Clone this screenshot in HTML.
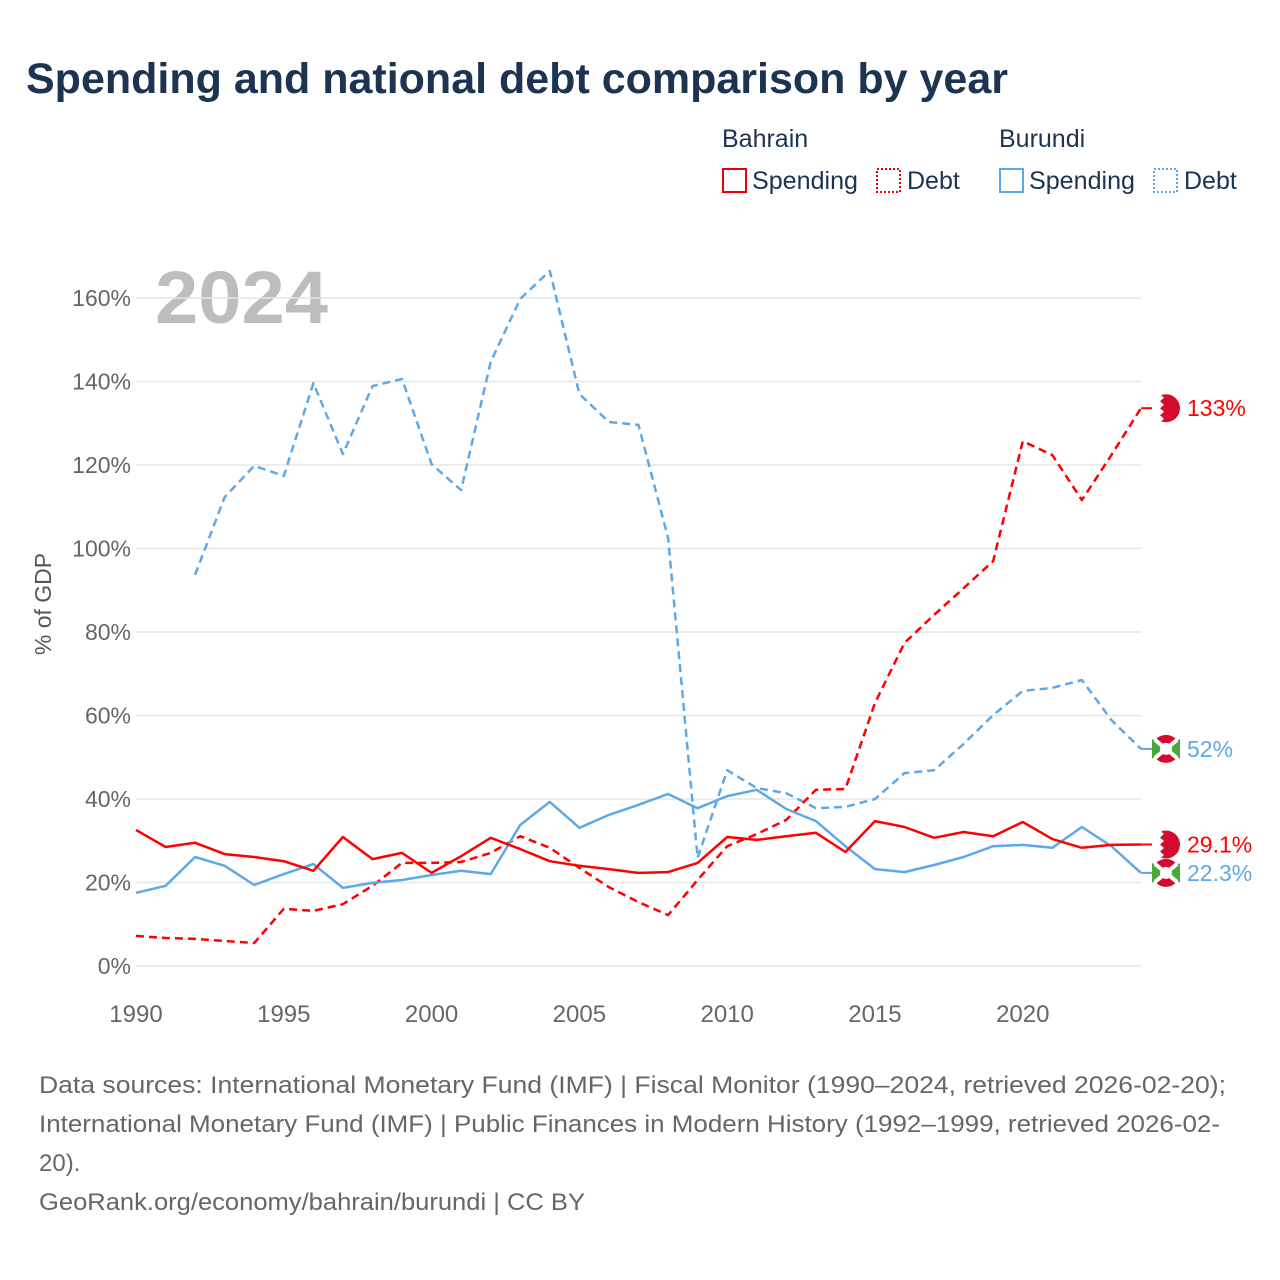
<!DOCTYPE html>
<html><head><meta charset="utf-8"><style>
body{margin:0;background:#fff;font-family:"Liberation Sans",sans-serif;}
#wrap{position:relative;width:1280px;height:1280px;overflow:hidden;}
</style></head><body>
<div id="wrap">
<svg id="chart" width="1280" height="1280">
<text x="26" y="93" font-size="43" font-weight="bold" fill="#1c3352" textLength="982" lengthAdjust="spacingAndGlyphs">Spending and national debt comparison by year</text>
<g font-size="25" fill="#1c3352">
<text x="722" y="147">Bahrain</text>
<text x="999" y="147">Burundi</text>
<g><rect x="723" y="169" width="23" height="23" fill="none" stroke="#e8000b" stroke-width="2"/><text x="752" y="189" textLength="106" lengthAdjust="spacingAndGlyphs">Spending</text></g>
<g><rect x="877" y="169" width="23" height="23" fill="none" stroke="#e8000b" stroke-width="2" stroke-dasharray="2,2"/><text x="907" y="189">Debt</text></g>
<g><rect x="1000" y="169" width="23" height="23" fill="none" stroke="#5fa8e8" stroke-width="2"/><text x="1029" y="189" textLength="106" lengthAdjust="spacingAndGlyphs">Spending</text></g>
<g><rect x="1154" y="169" width="23" height="23" fill="none" stroke="#5fa8e8" stroke-width="2" stroke-dasharray="2,2"/><text x="1184" y="189">Debt</text></g>
</g>
<text x="155" y="323" font-size="74" font-weight="bold" fill="#bdbdbd" textLength="173" lengthAdjust="spacingAndGlyphs">2024</text>
<text transform="translate(51,604) rotate(-90)" text-anchor="middle" font-size="23" fill="#555">% of GDP</text>
<g id="grid"></g><g id="lines"></g><g id="ends"></g>
<g font-size="24" fill="#666">
<text x="39" y="1093" textLength="1187" lengthAdjust="spacingAndGlyphs">Data sources: International Monetary Fund (IMF) | Fiscal Monitor (1990–2024, retrieved 2026-02-20);</text>
<text x="39" y="1132" textLength="1181" lengthAdjust="spacingAndGlyphs">International Monetary Fund (IMF) | Public Finances in Modern History (1992–1999, retrieved 2026-02-</text>
<text x="39" y="1171">20).</text>
<text x="39" y="1210" textLength="546" lengthAdjust="spacingAndGlyphs">GeoRank.org/economy/bahrain/burundi | CC BY</text>
</g>
</svg></div>
<script>
const years=[];for(let y=1990;y<=2024;y++)years.push(y);
const yTicks=[0,20,40,60,80,100,120,140,160];
const xTicks=[1990,1995,2000,2005,2010,2015,2020];
const bhrSpending=[32.6,28.5,29.5,26.8,26.1,25.1,22.8,30.9,25.6,27.1,22.3,26.3,30.7,28.0,25.1,24.0,23.2,22.3,22.5,24.7,30.9,30.2,31.1,31.9,27.3,34.7,33.3,30.7,32.1,31.1,34.5,30.4,28.3,29.0,29.1];
const bhrDebt=[7.2,6.7,6.5,6.0,5.5,13.7,13.2,14.8,19.2,24.7,24.7,24.9,27.1,31.1,28.3,23.5,18.9,15.3,12.2,20.6,28.7,31.6,35.0,42.2,42.4,63.0,77.4,84.1,90.5,97.0,125.7,122.4,111.6,122.4,133.6];
const bdiSpending=[17.5,19.2,26.1,24.0,19.4,22.0,24.4,18.7,19.9,20.6,21.8,22.8,22.0,33.8,39.3,33.1,36.2,38.6,41.2,37.8,40.7,42.2,37.6,34.7,28.7,23.2,22.5,24.2,26.1,28.7,29.0,28.3,33.3,28.7,22.3];
const bdiDebt=[null,null,93.7,112.3,119.8,117.4,139.6,122.6,138.9,140.6,120.2,114.0,144.7,159.8,166.5,137.0,130.3,129.6,102.5,25.9,46.9,42.6,41.4,37.8,38.1,40.0,46.2,46.9,53.2,60.1,65.9,66.6,68.5,58.9,52.0];
const endLabels=["133%","29.1%","52%","22.3%"];
const NS="http://www.w3.org/2000/svg";
const X=y=>136+(y-1990)*(1141-136)/34;
const Y=v=>966-v*(966-298)/160;
function el(t,a,p){const e=document.createElementNS(NS,t);for(const k in a)e.setAttribute(k,a[k]);p.appendChild(e);return e;}
const grid=document.getElementById('grid');
yTicks.forEach(v=>{
 const l=el('line',{x1:136,x2:1141,y1:Y(v),y2:Y(v),stroke:'#e6e6e6','stroke-width':1.5},grid);
 
 
 const t=el('text',{x:131,y:Y(v)+8,'text-anchor':'end','font-size':23,fill:'#666'},grid);t.textContent=v+'%';
 
 
});
xTicks.forEach(v=>{
 const t=el('text',{x:X(v),y:1022,'text-anchor':'middle','font-size':24,fill:'#666'},grid);t.textContent=v;
 
 
});
const lines=document.getElementById('lines');
function series(vals,color,dash,name){
 let d='';let pen=false;
 vals.forEach((v,i)=>{if(v==null){pen=false;return;}d+=(pen?'L':'M')+X(years[i]).toFixed(1)+','+Y(v).toFixed(1);pen=true;});
 const p=el('path',{d:d,fill:'none',stroke:color,'stroke-width':2.5,'stroke-linejoin':'round'},lines);
 if(dash)p.setAttribute('stroke-dasharray','8,5');
 
 
}
series(bdiDebt,'#5fa8e8',true,'line-burundi-debt');
series(bhrDebt,'#ff0000',true,'line-bahrain-debt');
series(bdiSpending,'#5fa8e8',false,'line-burundi-spending');
series(bhrSpending,'#ff0000',false,'line-bahrain-spending');
const ends=document.getElementById('ends');
const endVals=[bhrDebt[34],bhrSpending[34],bdiDebt[34],bdiSpending[34]];
const endCols=['#ff0000','#ff0000','#5fa8e8','#5fa8e8'];
const endFlag=['bhr','bhr','bdi','bdi'];
endVals.forEach((v,i)=>{
 const cy=Y(v),cx=1166;
 const g=el('g',{},ends);
 
 
 el('line',{x1:1141,x2:1152,y1:cy,y2:cy,stroke:endCols[i],'stroke-width':2},g);
 if(endFlag[i]==='bhr'){
  el('circle',{cx:cx,cy:cy,r:14,fill:'#d40b2d'},g);
  el('path',{d:`M${cx-14},${cy-14}h8l4,3.5l-4,3.5l4,3.5l-4,3.5l4,3.5l-4,3.5l4,3.5l-4,3.5h-8z`,fill:'#fff'},g);
 }else{
  el('circle',{cx:cx,cy:cy,r:14,fill:'#d40b2d'},g);
  el('path',{d:`M${cx-14},${cy-10}L${cx},${cy}L${cx-14},${cy+10}z M${cx+14},${cy-10}L${cx},${cy}L${cx+14},${cy+10}z`,fill:'#4da63a'},g);
  el('line',{x1:cx-11,y1:cy-9,x2:cx+11,y2:cy+9,stroke:'#fff','stroke-width':4},g);
  el('line',{x1:cx-11,y1:cy+9,x2:cx+11,y2:cy-9,stroke:'#fff','stroke-width':4},g);
  el('circle',{cx:cx,cy:cy,r:6,fill:'#fff'},g);
 }
 const t=el('text',{x:1187,y:cy+8,'font-size':23,fill:endCols[i]},g);t.textContent=endLabels[i];
});
</script>
</body></html>
